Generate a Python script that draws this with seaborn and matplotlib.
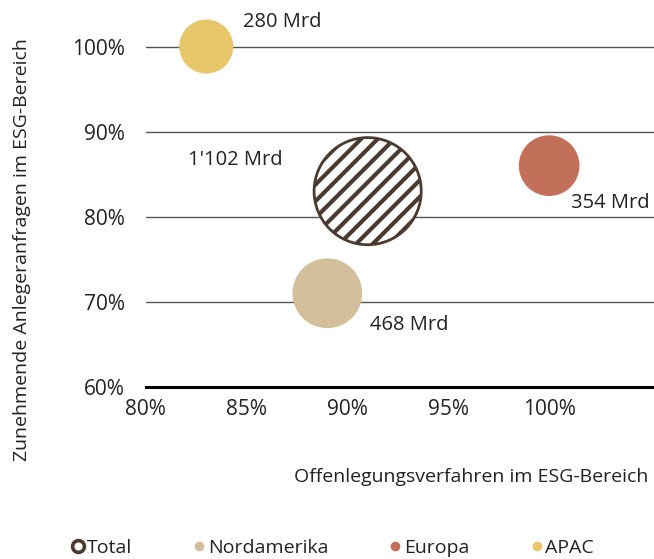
import matplotlib.pyplot as plt
import matplotlib.ticker as mticker
from matplotlib.lines import Line2D
import pandas as pd
import seaborn as sns

regions = ["Total", "Nordamerika", "Europa", "APAC"]
disclosure = [91, 89, 100, 83]          # x, %
requests = [83, 71, 86, 100]            # y, %
volume = [1102, 468, 354, 280]          # Mrd
labels = ["1'102 Mrd", "468 Mrd", "354 Mrd", "280 Mrd"]
colors = ["#ffffff", "#D3BF9C", "#C2705A", "#E8C66A"]
edge = "#4B3A2F"

df = pd.DataFrame({"region": regions, "x": disclosure, "y": requests,
                   "vol": volume, "label": labels})

sns.set_theme(style="white")
plt.rcParams['font.family'] = ['Open Sans', 'DejaVu Sans']
plt.rcParams['hatch.linewidth'] = 3.0
plt.rcParams['hatch.color'] = edge

fig = plt.figure(figsize=(6.54, 5.59), dpi=100)
ax = fig.add_axes([0.223, 0.308, 0.777, 0.662])

# bubbles (area proportional to volume)
scale = 5.4
for i, row in df.iterrows():
    if row["region"] == "Total":
        sns.scatterplot(x=[row["x"]], y=[row["y"]], s=row["vol"] * scale, ax=ax,
                        color="white", edgecolor=edge, linewidth=2, hatch="//",
                        zorder=3)
    else:
        sns.scatterplot(x=[row["x"]], y=[row["y"]], s=row["vol"] * scale, ax=ax,
                        color=colors[i], edgecolor="none", linewidth=0, zorder=3)

# labels
offsets = {"Total": (-4.2, 3.7, "right"), "Nordamerika": (2.1, -3.7, "left"),
           "Europa": (1.1, -4.4, "left"), "APAC": (1.8, 2.9, "left")}
for _, row in df.iterrows():
    dx, dy, ha = offsets[row["region"]]
    ax.text(row["x"] + dx, row["y"] + dy, row["label"], ha=ha, va="center",
            fontsize=14.5, color="#222222")

ax.set_xlim(80, 105.2)
ax.set_ylim(60, 103.5)
ax.xaxis.set_major_locator(mticker.FixedLocator([80, 85, 90, 95, 100]))
ax.yaxis.set_major_locator(mticker.FixedLocator([60, 70, 80, 90, 100]))
ax.xaxis.set_major_formatter(mticker.FuncFormatter(lambda v, p: f"{v:.0f}%"))
ax.yaxis.set_major_formatter(mticker.FuncFormatter(lambda v, p: f"{v:.0f}%"))
ax.tick_params(axis="y", length=0, pad=15, labelsize=15, labelcolor="#222222")
ax.tick_params(axis="x", length=0, pad=9, labelsize=15, labelcolor="#222222")

ax.grid(axis="y", color="#555555", linewidth=1)
ax.grid(axis="x", visible=False)
for s in ["top", "right", "left"]:
    ax.spines[s].set_visible(False)
ax.spines["bottom"].set_color("black")
ax.spines["bottom"].set_linewidth(2.2)
ax.spines["bottom"].set_zorder(4)

ax.set_xlabel("Offenlegungsverfahren im ESG-Bereich", fontsize=14, color="#222222")
ax.xaxis.set_label_coords(0.988, -0.22)
ax.xaxis.label.set_ha("right")
ax.set_ylabel("Zunehmende Anlegeranfragen im ESG-Bereich", fontsize=14, color="#222222")
ax.yaxis.set_label_coords(-0.226, 0.37)

handles = [
    Line2D([], [], marker="o", linestyle="", markersize=8.5, markerfacecolor="white",
           markeredgecolor=edge, markeredgewidth=2.6),
    Line2D([], [], marker="o", linestyle="", markersize=6, color=colors[1]),
    Line2D([], [], marker="o", linestyle="", markersize=6, color=colors[2]),
    Line2D([], [], marker="o", linestyle="", markersize=6, color=colors[3]),
]
fig.legend(handles, regions, loc="center", bbox_to_anchor=(0.51, 0.02), ncol=4,
           frameon=False, fontsize=14, handlelength=0.5, handletextpad=0.2,
           columnspacing=3.2, labelcolor="#222222")

fig.savefig("out.png", dpi=100)
